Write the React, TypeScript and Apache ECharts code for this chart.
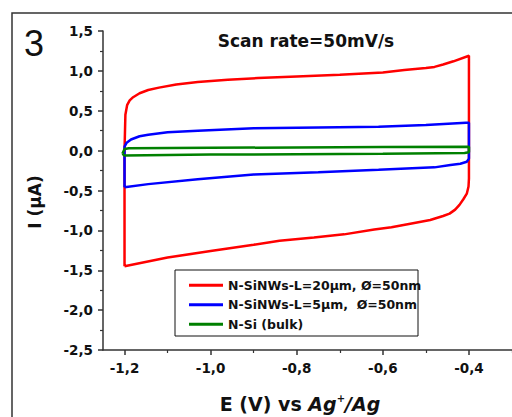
import React, { useEffect, useRef } from "react";
import * as echarts from "echarts";

const seriesNames = [
  "N-SiNWs-L=20μm, Ø=50nm",
  "N-SiNWs-L=5μm,  Ø=50nm",
  "N-Si (bulk)",
];
const seriesColors = ["#ff0000", "#0000ff", "#008000"];

// Cyclic voltammograms: [E (V), I (µA)]
const red20um: number[][] = [
  [-1.2, -1.45], [-1.2, 0.0], [-1.198, 0.45], [-1.194, 0.57], [-1.188, 0.63],
  [-1.18, 0.67], [-1.165, 0.72], [-1.145, 0.76], [-1.12, 0.79], [-1.08, 0.83],
  [-1.03, 0.86], [-0.96, 0.89], [-0.89, 0.91], [-0.8, 0.93], [-0.7, 0.95],
  [-0.6, 0.98], [-0.55, 1.01], [-0.5, 1.035], [-0.48, 1.05], [-0.46, 1.08],
  [-0.436, 1.12], [-0.4, 1.19], [-0.4, 0.5], [-0.4, -0.35], [-0.401, -0.45],
  [-0.405, -0.54], [-0.413, -0.61], [-0.422, -0.68], [-0.432, -0.74],
  [-0.445, -0.79], [-0.46, -0.82], [-0.49, -0.87], [-0.53, -0.91],
  [-0.58, -0.96], [-0.62, -0.99], [-0.69, -1.05], [-0.76, -1.09],
  [-0.84, -1.13], [-0.9, -1.18], [-1.0, -1.26], [-1.1, -1.34], [-1.2, -1.45],
];
const blue5um: number[][] = [
  [-1.2, -0.46], [-1.2, -0.1], [-1.2, 0.05], [-1.195, 0.1], [-1.185, 0.14],
  [-1.165, 0.18], [-1.145, 0.2], [-1.1, 0.23], [-1.03, 0.25], [-0.9, 0.28],
  [-0.75, 0.29], [-0.61, 0.3], [-0.5, 0.32], [-0.407, 0.35], [-0.4, 0.35],
  [-0.4, -0.1], [-0.405, -0.14], [-0.42, -0.165], [-0.443, -0.18],
  [-0.48, -0.21], [-0.61, -0.24], [-0.75, -0.27], [-0.9, -0.3],
  [-1.03, -0.36], [-1.145, -0.42], [-1.2, -0.46],
];
const greenBulk: number[][] = [
  [-1.205, -0.04], [-1.2, 0.02], [-1.19, 0.03], [-1.0, 0.035], [-0.8, 0.04],
  [-0.6, 0.045], [-0.4, 0.05], [-0.4, -0.02], [-0.41, -0.03], [-0.6, -0.04],
  [-0.8, -0.045], [-1.0, -0.05], [-1.2, -0.06], [-1.205, -0.04],
];

const xMajorTicks = [-1.2, -1.0, -0.8, -0.6, -0.4];
const xMinorTicks = [-1.1, -0.9, -0.7, -0.5, -0.3];

const FONT = "DejaVu Sans";
const fmt = (v: number) => v.toFixed(1).replace(".", ",");

export default function App() {
  const ref = useRef<HTMLDivElement>(null);
  useEffect(() => {
    if (!ref.current) return;
    const chart = echarts.init(ref.current, null, { renderer: "svg" });
    const xBase = {
      type: "value",
      min: -1.25,
      max: -0.3,
      gridIndex: 0,
      splitLine: { show: false },
    };
    chart.setOption({
      animation: false,
      backgroundColor: "#ffffff",
      grid: { left: 103, top: 31, right: -8, bottom: 67, containLabel: false },
      xAxis: [
        {
          ...xBase,
          position: "bottom",
          axisLine: { show: true, onZero: false, lineStyle: { color: "#333", width: 1.5 } },
          axisTick: {
            show: true,
            length: 5,
            customValues: xMajorTicks,
            lineStyle: { color: "#333", width: 1.5 },
          },
          axisLabel: {
            show: true,
            customValues: xMajorTicks,
            formatter: fmt,
            margin: 11,
            color: "#111",
            fontFamily: FONT,
            fontWeight: "bold",
            fontSize: 13.5,
          },
        },
        {
          ...xBase,
          position: "bottom",
          axisLine: { show: false, onZero: false },
          axisTick: {
            show: true,
            length: 3,
            customValues: xMinorTicks,
            lineStyle: { color: "#333", width: 1.2 },
          },
          axisLabel: { show: false },
        },
      ],
      yAxis: {
        type: "value",
        min: -2.5,
        max: 1.5,
        interval: 0.5,
        splitLine: { show: false },
        axisLine: { show: true, onZero: false, lineStyle: { color: "#333", width: 1.5 } },
        axisTick: { show: true, length: 5, lineStyle: { color: "#333", width: 1.5 } },
        minorTick: { show: true, splitNumber: 2, length: 3, lineStyle: { color: "#333", width: 1.2 } },
        axisLabel: {
          formatter: fmt,
          margin: 10,
          color: "#111",
          fontFamily: FONT,
          fontWeight: "bold",
          fontSize: 13.5,
        },
      },
      legend: {
        show: true,
        orient: "vertical",
        left: 189,
        top: 278,
        padding: 0,
        itemGap: 5,
        itemWidth: 34,
        itemHeight: 3,
        icon: "rect",
        data: seriesNames,
        textStyle: {
          fontFamily: FONT,
          fontWeight: "bold",
          fontSize: 12.5,
          lineHeight: 14.5,
          color: "#111",
        },
      },
      series: [red20um, blue5um, greenBulk].map((d, i) => ({
        name: seriesNames[i],
        type: "line",
        data: d,
        showSymbol: false,
        symbol: "none",
        color: seriesColors[i],
        lineStyle: { color: seriesColors[i], width: 2.5 },
        xAxisIndex: 0,
        z: 2 + i,
      })),
      graphic: [
        {
          type: "rect",
          shape: { x: 12, y: 13, width: 600, height: 500 },
          style: { fill: "none", stroke: "#333", lineWidth: 1.5 },
          silent: true,
        },
        {
          type: "rect",
          shape: { x: 175, y: 270, width: 243, height: 66 },
          style: { fill: "none", stroke: "#111", lineWidth: 1 },
          silent: true,
          z: 10,
        },
        {
          type: "text",
          x: 34,
          y: 43,
          style: {
            text: "3",
            font: "normal 36px 'Liberation Sans'",
            fill: "#111",
            textAlign: "center",
            textVerticalAlign: "middle",
          },
        },
        {
          type: "text",
          x: 306,
          y: 41,
          style: {
            text: "Scan rate=50mV/s",
            font: `bold 17px '${FONT}'`,
            fill: "#111",
            textAlign: "center",
            textVerticalAlign: "middle",
          },
        },
        {
          type: "text",
          x: 35,
          y: 202,
          rotation: Math.PI / 2,
          style: {
            text: "I (μA)",
            font: `bold 17px '${FONT}'`,
            fill: "#111",
            textAlign: "center",
            textVerticalAlign: "middle",
          },
        },
        {
          type: "text",
          x: 300,
          y: 404,
          style: {
            text: "E (V) vs {it|Ag}{sup|+}{it|/Ag}",
            font: `bold 19px '${FONT}'`,
            fill: "#111",
            textAlign: "center",
            textVerticalAlign: "middle",
            rich: {
              it: { fontFamily: FONT, fontWeight: "bold", fontStyle: "italic", fontSize: 19, fill: "#111" },
              sup: { fontFamily: FONT, fontWeight: "bold", fontSize: 10, fill: "#111", padding: [0, 0, 12, 0] },
            },
          },
        },
      ],
    });
    return () => chart.dispose();
  }, []);
  return (
    <div
      ref={ref}
      style={{ position: "absolute", left: 0, top: 0, width: 512, height: 417 }}
    />
  );
}
